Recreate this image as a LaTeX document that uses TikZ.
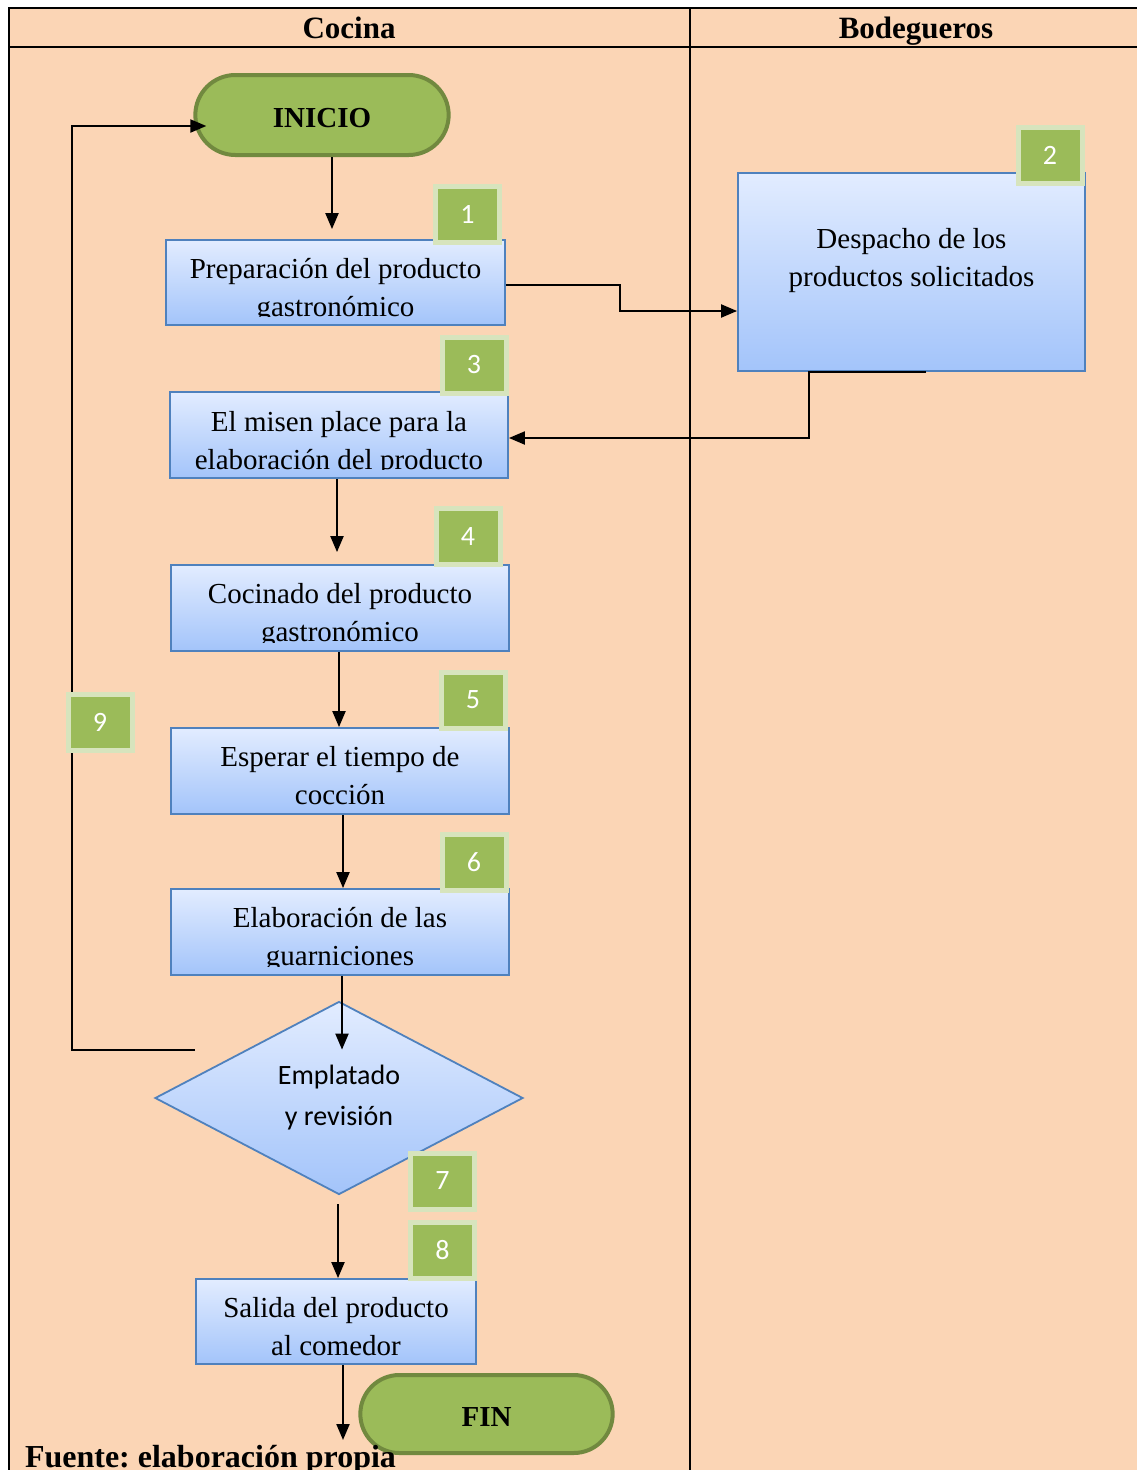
\documentclass[tikz,border=0pt]{standalone}
\usepackage{fontspec}
\setmainfont{Liberation Serif}
\newfontfamily\calibri{Carlito}
\usetikzlibrary{arrows.meta,shapes.geometric,shapes.misc}
\frenchspacing
\definecolor{durazno}{HTML}{FBD5B5}
\definecolor{verde}{HTML}{9BBB59}
\definecolor{verdeosc}{HTML}{71893F}
\definecolor{verdeclaro}{HTML}{D7E4BD}
\definecolor{azulborde}{HTML}{4F81BD}
\definecolor{azularriba}{HTML}{E2ECFF}
\definecolor{azulabajo}{HTML}{A3C4FA}
% text of a task box, cut at the lower edge like in the original
\newcommand{\textocaja}[3]{%
  \begin{scope}
    \clip ([yshift=9pt]#1.south west) rectangle (#1.north east);
    \node[texto,anchor=north] (#1-t) at ([yshift=-#2]#1.north) {#3};
  \end{scope}}

\begin{document}
\begin{tikzpicture}[x=1pt,y=-1pt,line width=2pt,>={Triangle[length=16pt,width=13pt]},
    texto/.style={inner sep=0pt,align=center,font=\fontsize{29}{38.5}\selectfont},
    tarea/.style={draw=azulborde,line width=1.8pt,top color=azularriba,bottom color=azulabajo,inner sep=0pt},
    terminal/.style={rounded rectangle,draw=verdeosc,line width=4pt,fill=verde,text height=25pt,text depth=0pt,
      font=\fontsize{29}{34}\selectfont\bfseries,minimum width=260pt,minimum height=80pt},
    paso/.style={draw=verdeclaro,line width=5pt,fill=verde,text=white,inner sep=0pt,
      font=\calibri\fontsize{28}{32}\selectfont,minimum width=64pt,minimum height=56pt},
    decision/.style={diamond,draw=azulborde,line width=1.8pt,top color=azularriba,bottom color=azulabajo,
      align=center,inner sep=0pt,font=\calibri\fontsize{28}{41}\selectfont}]
    \useasboundingbox (0,0) rectangle (1137,1470);
    % lanes
    \fill[durazno] (9,8) rectangle (1137,1470);
    \draw (1145,8) -- (9,8) -- (9,1480);
    \draw (9,47) -- (1145,47);
    \draw (690,8) -- (690,1480);
    \node[font=\fontsize{31}{36}\selectfont\bfseries,anchor=base] (cocina) at (349,38) {Cocina};
    \node[font=\fontsize{31}{36}\selectfont\bfseries,anchor=base] (bodega) at (916,38) {Bodegueros};
    % steps
    \node[terminal] (ini) at (322,115) {INICIO};
    \node[tarea,minimum width=339pt,minimum height=85pt] (p1) at (335.5,282.5) {};
    \textocaja{p1}{18pt}{Preparación del producto\\gastronómico}
    \node[tarea,minimum width=347pt,minimum height=198pt] (p2) at (911.5,272) {};
    \textocaja{p2}{55pt}{Despacho de los\\productos solicitados}
    \node[tarea,minimum width=338pt,minimum height=86pt] (p3) at (339,435) {};
    \textocaja{p3}{19pt}{El misen place para la\\elaboración del producto}
    \node[tarea,minimum width=338pt,minimum height=86pt] (p4) at (340,608) {};
    \textocaja{p4}{18pt}{Cocinado del producto\\gastronómico}
    \node[tarea,minimum width=338pt,minimum height=86pt] (p5) at (340,771) {};
    \textocaja{p5}{18pt}{Esperar el tiempo de\\cocción}
    \node[tarea,minimum width=338pt,minimum height=86pt] (p6) at (340,932) {};
    \textocaja{p6}{18pt}{Elaboración de las\\guarniciones}
    \node[decision,minimum width=368pt,minimum height=193pt] (dec) at (339,1098) {Emplatado\\y revisión};
    \node[tarea,minimum width=280pt,minimum height=85pt] (p8) at (336,1321.5) {};
    \textocaja{p8}{18pt}{Salida del producto\\al comedor}
    \node[terminal,minimum width=259pt,minimum height=78pt] (fin) at (486.5,1414) {FIN};
    % connectors
    \coordinate (c1) at (620,311);
    \coordinate (c2) at (809,438);
    \coordinate (c3) at (343,1440);
    \coordinate (c4) at (195,1050);
    \coordinate (c5) at (72,1050);
    \draw[->] ([xshift=10pt]ini.south) -- ([xshift=-3.5pt,yshift=10pt]p1.north);
    \draw[->] ([yshift=-2.5pt]p1.east) -| (c1) -- (c1 -| p2.west);
    \draw[->] ([xshift=14.5pt]p2.south) -- (p2.south -| c2) -- (c2) -- (c2 -| p3.east);
    \draw[->] ([xshift=-2pt]p3.south) -- ([xshift=-3pt,yshift=12pt]p4.north);
    \draw[->] ([xshift=-1pt]p4.south) -- ([xshift=-1pt]p5.north);
    \draw[->] ([xshift=3pt]p5.south) -- ([xshift=3pt]p6.north);
    \draw[->] ([xshift=2pt]p6.south) -- ([xshift=3pt,yshift=-49pt]dec.north);
    \draw[->] ([xshift=-1pt,yshift=-9pt]dec.south) -- ([xshift=2pt]p8.north);
    \draw[->] ([xshift=7pt]p8.south) -- (c3);
    \draw[->] (c4) -- (c5) |- ([xshift=13pt,yshift=-11pt]ini.west);
    % step numbers
    \node[paso] (n1) at (467.5,214.5) {1};
    \node[paso] (n2) at (1050,155.5) {2};
    \node[paso] (n3) at (474,365) {3};
    \node[paso] (n4) at (468,536.5) {4};
    \node[paso] (n5) at (473,700) {5};
    \node[paso] (n6) at (474,862) {6};
    \node[paso] (n7) at (442.5,1181) {7};
    \node[paso] (n8) at (442.5,1250) {8};
    \node[paso] (n9) at (100,722) {9};
    \node[font=\fontsize{32}{36}\selectfont\bfseries,anchor=base west,inner sep=0pt] (fuente) at (24,1467) {Fuente: elaboración propia};
\end{tikzpicture}
\end{document}
